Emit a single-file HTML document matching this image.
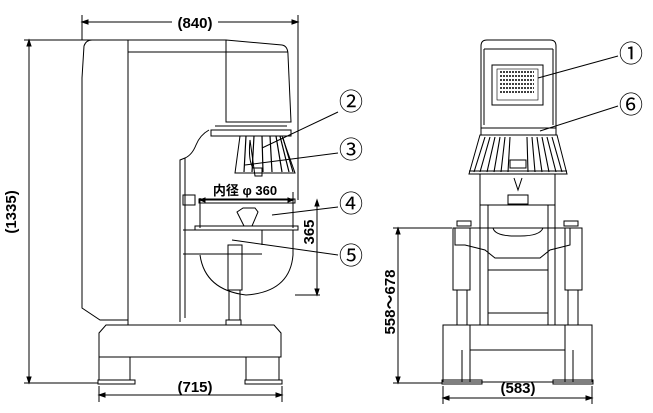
<!DOCTYPE html>
<html><head><meta charset="utf-8"><style>
html,body{margin:0;padding:0;background:#fff}
svg{display:block}
text{font-family:"Liberation Sans","Noto Sans CJK JP",sans-serif;fill:#000}
.c{font-family:"Noto Sans CJK JP","DejaVu Sans",sans-serif}
</style></head><body>
<svg width="653" height="413" viewBox="0 0 653 413" xmlns="http://www.w3.org/2000/svg" fill="none" stroke="#000" stroke-width="1">
<line x1="82" y1="15" x2="82" y2="40"/><line x1="298" y1="15" x2="298" y2="200"/>
<line x1="84" y1="22" x2="172" y2="22"/><line x1="218" y1="22" x2="296" y2="22"/>
<path d="M82 22l6-2v4zM298 22l-6-2v4z" fill="#000"/>
<text x="195" y="28" font-size="15" font-weight="bold" text-anchor="middle" stroke="none">(840)</text>
<line x1="24" y1="40" x2="128" y2="40"/><line x1="24" y1="383" x2="98" y2="383"/>
<line x1="29" y1="42" x2="29" y2="381"/>
<path d="M29 40l-2 6h4zM29 383l-2-6h4z" fill="#000"/>
<text transform="translate(16,212) rotate(-90)" font-size="15" font-weight="bold" text-anchor="middle" stroke="none">(1335)</text>
<path d="M82 78 L84 46 Q86 40 92 40 L128 40 M82 78 L82 308 L100 320 L128 320"/>
<line x1="128" y1="40" x2="128" y2="325"/>
<path d="M128 40 L226 40 L282 45 Q288 46 288 55 L291 122 L226 122 L226 40"/>
<line x1="128" y1="52" x2="288" y2="52"/>
<rect x="211" y="130" width="80" height="6"/>
<line x1="215" y1="126" x2="287" y2="126"/>
<path d="M209 130 Q200 135 196 145 Q192 155 185 158 L180 160 L180 322"/>
<line x1="185" y1="158" x2="185" y2="318"/>
<path d="M240 136 L235 173 L295 173 L282 136"/>
<path d="M246 136 L244 172 M254 136 L252 172 M262 136 L263 172 M270 136 L272 172 M276 136 L282 172 M280 136 L289 172 M283 138 L293 172" stroke-width="1.2"/>
<path d="M250 140 Q248 160 253 168 L262 168 L262 176 L255 176 Z"/>
<text x="245" y="195" font-size="13" font-weight="bold" text-anchor="middle" stroke="none">内径 φ 360</text>
<line x1="200" y1="198" x2="200" y2="205"/><line x1="293" y1="192" x2="293" y2="205"/>
<line x1="200" y1="200" x2="293" y2="200"/>
<path d="M200 200l5-2v4zM293 200l-5-2v4z" fill="#000"/>
<rect x="183" y="195" width="12" height="10"/>
<rect x="199" y="199" width="96" height="4"/>
<line x1="200" y1="203" x2="200" y2="228"/><line x1="293" y1="203" x2="293" y2="228"/>
<path d="M237 212 L243 208 L255 208 L258 212 L252 226 L244 226 Z"/>
<rect x="195" y="226" width="103" height="4"/>
<line x1="183" y1="230" x2="262" y2="230"/>
<line x1="183" y1="254" x2="262" y2="254"/><line x1="262" y1="230" x2="262" y2="245"/>
<path d="M200 255 Q205 290 246 295 Q290 292 293 255 L293 230"/>
<rect x="228" y="245" width="14" height="45"/>
<rect x="229" y="290" width="11" height="30"/>
<rect x="226" y="320" width="15" height="5"/>
<line x1="295" y1="295" x2="320" y2="295"/>
<line x1="317" y1="202" x2="317" y2="293"/>
<path d="M317 200l-2 6h4zM317 295l-2-6h4z" fill="#000"/>
<text transform="translate(314,232) rotate(-90)" font-size="15" font-weight="bold" text-anchor="middle" stroke="none">365</text>
<path d="M99 333 L106 325 L274 325 L281 333 L281 357 L99 357 Z"/>
<path d="M99 357 L99 380 M130 357 L130 380 M246 357 L246 380 M279 357 L279 380"/>
<rect x="98" y="380" width="37" height="4"/><rect x="245" y="380" width="37" height="4"/>
<line x1="99" y1="386" x2="99" y2="402"/><line x1="282" y1="386" x2="282" y2="402"/>
<line x1="101" y1="395" x2="280" y2="395"/>
<path d="M99 395l6-2v4zM282 395l-6-2v4z" fill="#000"/>
<text x="195" y="392" font-size="15" font-weight="bold" text-anchor="middle" stroke="none">(715)</text>
<line x1="338" y1="112" x2="262" y2="148"/>
<line x1="338" y1="153" x2="245" y2="165"/>
<line x1="338" y1="207" x2="272" y2="215"/>
<line x1="338" y1="255" x2="232" y2="240"/>
<text class="c" x="351" y="110" font-size="24" text-anchor="middle" stroke="none">②</text>
<text class="c" x="351" y="158" font-size="24" text-anchor="middle" stroke="none">③</text>
<text class="c" x="351" y="212" font-size="24" text-anchor="middle" stroke="none">④</text>
<text class="c" x="351" y="264" font-size="24" text-anchor="middle" stroke="none">⑤</text>
<path d="M481 128 L481 46 Q481 40 487 40 L550 40 Q556 40 556 46 L556 128"/>
<path d="M484 49 L553 49 M484 49 L484 125 M553 49 L553 125"/>
<rect x="492" y="65" width="51" height="40"/>
<rect x="497" y="69" width="41" height="31" stroke-width="0.6"/>
<path d="M500 72h34M500 76h34M500 80h34M500 84h34M500 88h34M500 92h34" stroke-width="1.6" stroke-dasharray="2 1"/>
<rect x="481" y="128" width="75" height="7"/>
<path d="M480 135 L469 174 L567 174 L557 135 Z"/>
<path d="M485 137 L474 172 M490 137 L480 172 M495 137 L487 172 M500 137 L494 172 M505 137 L501 172 M510 137 L508 172 M527 137 L528 172 M532 137 L535 172 M537 137 L542 172 M542 137 L549 172 M547 137 L556 172 M552 137 L562 172" stroke-width="1.1"/>
<line x1="469" y1="171" x2="567" y2="171"/>
<path d="M510 160 h16 v8 h-16 z M514 178 L518 190 L522 178"/>
<rect x="508" y="195" width="20" height="9"/>
<path d="M480 174 L480 325 M555 174 L555 325 M488 205 L488 325 M548 205 L548 325 M480 205 L555 205"/>
<path d="M455 228 L570 228 L570 245 L550 250 L540 258 L495 258 L485 250 L465 245 L455 245 Z"/>
<path d="M493 228 Q495 236 515 236 L520 236 Q540 236 543 228"/>
<path d="M488 270 L548 270 M488 313 L548 313"/>
<rect x="453" y="228" width="17" height="62"/><rect x="565" y="228" width="17" height="62"/>
<rect x="457" y="290" width="10" height="35"/><rect x="568" y="290" width="10" height="35"/>
<rect x="457" y="221" width="14" height="5"/><rect x="564" y="221" width="14" height="5"/>
<rect x="443" y="325" width="149" height="57"/>
<rect x="470" y="325" width="95" height="25"/>
<path d="M462 350 L462 382 M573 350 L573 382 M470 350 L470 382 M565 350 L565 382"/>
<rect x="442" y="380" width="40" height="4"/><rect x="553" y="380" width="40" height="4"/>
<line x1="393" y1="228" x2="452" y2="228"/><line x1="393" y1="383" x2="442" y2="383"/>
<line x1="398" y1="230" x2="398" y2="381"/>
<path d="M398 228l-2 6h4zM398 383l-2-6h4z" fill="#000"/>
<text transform="translate(395,302) rotate(-90)" font-size="15" font-weight="bold" text-anchor="middle" stroke="none">558～678</text>
<line x1="443" y1="386" x2="443" y2="404"/><line x1="592" y1="386" x2="592" y2="404"/>
<line x1="445" y1="398" x2="590" y2="398"/>
<path d="M443 398l6-2v4zM592 398l-6-2v4z" fill="#000"/>
<text x="518" y="393" font-size="15" font-weight="bold" text-anchor="middle" stroke="none">(583)</text>
<line x1="618" y1="56" x2="538" y2="78"/>
<line x1="618" y1="106" x2="540" y2="131"/>
<text class="c" x="631" y="62" font-size="24" text-anchor="middle" stroke="none">①</text>
<text class="c" x="631" y="113" font-size="24" text-anchor="middle" stroke="none">⑥</text>
</svg>
</body></html>
